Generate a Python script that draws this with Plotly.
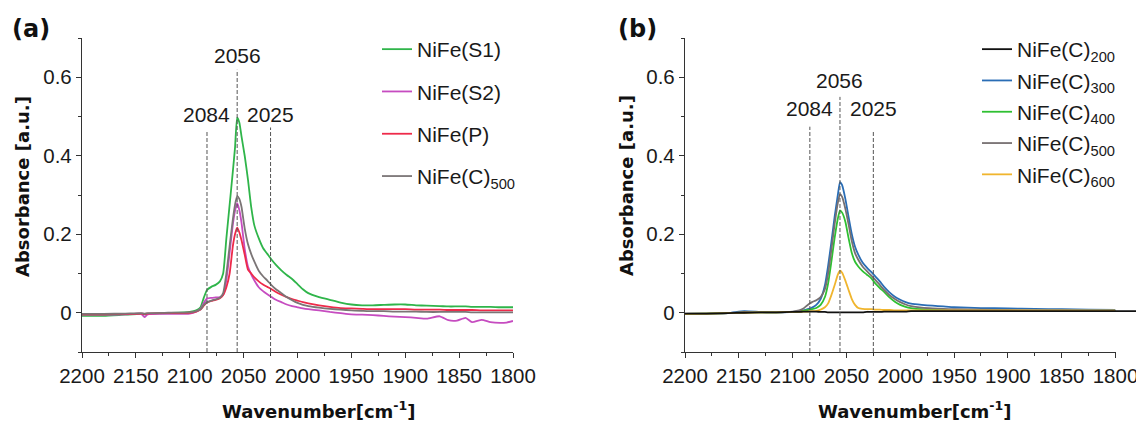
import plotly.graph_objects as go

# ---------------- data: panel (a) ----------------
wn_a = [2200, 2180, 2160, 2145, 2142, 2139, 2120, 2100, 2094, 2090, 2087, 2084, 2080, 2076,
        2072, 2069, 2066, 2063, 2060, 2058, 2056, 2054, 2052, 2049, 2046, 2043, 2040, 2036,
        2032, 2028, 2024, 2020, 2015, 2010, 2005, 2000, 1995, 1990, 1980, 1970, 1960, 1950,
        1940, 1930, 1920, 1910, 1900, 1890, 1880, 1868, 1860, 1852, 1844, 1838, 1829, 1821,
        1812, 1806, 1800]

nife_s1 = [-0.008, -0.008, -0.005, -0.003, -0.004, -0.003, -0.001, 0.002, 0.006, 0.014, 0.038,
           0.058, 0.066, 0.071, 0.080, 0.100, 0.190, 0.275, 0.360, 0.420, 0.497, 0.485, 0.450,
           0.400, 0.340, 0.270, 0.222, 0.190, 0.165, 0.150, 0.135, 0.122, 0.108, 0.096, 0.086,
           0.073, 0.060, 0.050, 0.040, 0.033, 0.026, 0.021, 0.019, 0.019, 0.020, 0.021, 0.021,
           0.019, 0.018, 0.017, 0.016, 0.016, 0.016, 0.015, 0.015, 0.015, 0.014, 0.014, 0.014]

nife_s2 = [-0.005, -0.005, -0.004, -0.003, -0.011, -0.004, -0.003, -0.002, 0.003, 0.010, 0.025,
           0.036, 0.038, 0.039, 0.040, 0.045, 0.084, 0.153, 0.225, 0.260, 0.279, 0.262, 0.230,
           0.163, 0.118, 0.098, 0.082, 0.065, 0.055, 0.047, 0.040, 0.033, 0.027, 0.021, 0.017,
           0.014, 0.011, 0.009, 0.006, 0.002, -0.001, -0.004, -0.005, -0.006, -0.008, -0.010,
           -0.011, -0.013, -0.015, -0.009, -0.019, -0.020, -0.013, -0.024, -0.018, -0.024,
           -0.026, -0.025, -0.021]

nife_p = [-0.004, -0.004, -0.003, -0.002, -0.003, -0.002, -0.001, 0.000, 0.003, 0.008, 0.018,
          0.026, 0.030, 0.033, 0.037, 0.045, 0.065, 0.100, 0.170, 0.200, 0.217, 0.205, 0.185,
          0.148, 0.110, 0.100, 0.090, 0.080, 0.072, 0.066, 0.060, 0.053, 0.046, 0.040, 0.035,
          0.031, 0.027, 0.024, 0.019, 0.015, 0.012, 0.011, 0.010, 0.009, 0.009, 0.009, 0.009,
          0.008, 0.008, 0.008, 0.007, 0.007, 0.007, 0.007, 0.006, 0.006, 0.006, 0.006, 0.006]

nife_c500_a = [-0.003, -0.003, -0.002, -0.001, -0.002, -0.001, 0.000, 0.001, 0.004, 0.009, 0.020,
               0.027, 0.031, 0.034, 0.038, 0.050, 0.100, 0.170, 0.238, 0.275, 0.297, 0.290, 0.270,
               0.215, 0.175, 0.150, 0.130, 0.107, 0.093, 0.082, 0.070, 0.060, 0.050, 0.040, 0.032,
               0.025, 0.020, 0.017, 0.013, 0.010, 0.008, 0.006, 0.005, 0.004, 0.004, 0.003, 0.003,
               0.003, 0.002, 0.002, 0.002, 0.002, 0.002, 0.001, 0.001, 0.001, 0.001, 0.001, 0.001]

# ---------------- data: panel (b) ----------------
wn_b = [2200, 2180, 2160, 2145, 2130, 2115, 2100, 2094, 2090, 2086, 2082, 2078, 2074, 2070,
        2067, 2064, 2061, 2058, 2056, 2054, 2051, 2048, 2045, 2042, 2039, 2035, 2031, 2027,
        2023, 2019, 2015, 2010, 2005, 2000, 1995, 1990, 1980, 1970, 1960, 1950, 1925, 1900,
        1875, 1850, 1825, 1800]

# NiFe(C)200 was recorded a little beyond 1800 cm-1 (its line runs past the axis end)
wn_c200 = wn_b + [1790, 1780]
nife_c200 = [-0.002, -0.002, -0.001, 0.000, 0.001, 0.001, 0.002, 0.002, 0.003, 0.003, 0.003,
             0.003, 0.002, 0.002, 0.001, 0.001, 0.001, 0.001, 0.001, 0.001, 0.001, 0.001, 0.001,
             0.001, 0.001, 0.001, 0.002, 0.002, 0.002, 0.002, 0.003, 0.003, 0.003, 0.003, 0.003,
             0.004, 0.004, 0.004, 0.004, 0.004, 0.004, 0.004, 0.004, 0.004, 0.004, 0.004,
             0.004, 0.004]

nife_c300 = [-0.003, -0.002, -0.001, 0.004, 0.002, 0.001, 0.002, 0.004, 0.006, 0.009, 0.013,
             0.020, 0.035, 0.070, 0.120, 0.180, 0.244, 0.300, 0.333, 0.325, 0.290, 0.244, 0.200,
             0.168, 0.148, 0.128, 0.115, 0.104, 0.092, 0.080, 0.066, 0.052, 0.041, 0.033, 0.027,
             0.023, 0.020, 0.018, 0.016, 0.014, 0.012, 0.011, 0.010, 0.009, 0.008, 0.007]

nife_c400 = [-0.003, -0.002, -0.001, 0.001, 0.001, 0.001, 0.002, 0.003, 0.005, 0.007, 0.009,
             0.012, 0.020, 0.040, 0.075, 0.130, 0.190, 0.240, 0.261, 0.255, 0.232, 0.190, 0.152,
             0.130, 0.118, 0.106, 0.097, 0.088, 0.074, 0.063, 0.053, 0.039, 0.028, 0.020, 0.015,
             0.012, 0.009, 0.008, 0.007, 0.006, 0.005, 0.005, 0.004, 0.004, 0.004, 0.004]

nife_c500_b = [-0.002, -0.002, -0.001, 0.002, 0.001, 0.001, 0.003, 0.006, 0.011, 0.020, 0.027,
               0.032, 0.040, 0.060, 0.100, 0.160, 0.225, 0.280, 0.302, 0.295, 0.265, 0.225, 0.182,
               0.152, 0.135, 0.118, 0.106, 0.095, 0.083, 0.071, 0.058, 0.045, 0.035, 0.027, 0.021,
               0.017, 0.013, 0.011, 0.010, 0.009, 0.008, 0.007, 0.006, 0.006, 0.005, 0.005]

nife_c600 = [-0.003, -0.002, -0.001, 0.000, 0.001, 0.001, 0.002, 0.002, 0.003, 0.003, 0.004,
             0.005, 0.008, 0.014, 0.024, 0.045, 0.070, 0.097, 0.107, 0.102, 0.082, 0.058, 0.035,
             0.020, 0.012, 0.010, 0.009, 0.009, 0.008, 0.008, 0.007, 0.007, 0.006, 0.006, 0.006,
             0.006, 0.006, 0.006, 0.006, 0.006, 0.006, 0.006, 0.006, 0.006, 0.006, 0.006]

# marked band positions and the height each dashed guide reaches
peak_positions = [2084, 2056, 2025]
peak_labels = ["2084", "2056", "2025"]
guide_top_a = [0.465, 0.619, 0.472]
label_y_a = [0.506, 0.655, 0.506]
guide_top_b = [0.474, 0.550, 0.465]
label_y_b = [0.520, 0.593, 0.520]

x_tickvals = [2200, 2150, 2100, 2050, 2000, 1950, 1900, 1850, 1800]
y_tickvals = [0, 0.2, 0.4, 0.6]
y_ticktext = ["0", "0.2", "0.4", "0.6"]

# ---------------- styling ----------------
SANS = "Liberation Sans, Arial, sans-serif"
TICK_FONT = dict(family=SANS, size=20.5, color="#1a1a1a")
ANNOT_FONT = dict(family=SANS, size=21, color="#1a1a1a")
LEGEND_FONT = dict(family=SANS, size=21, color="#1a1a1a")
BOLD_FONT = "DejaVu Sans, Verdana, sans-serif"
AXIS_COLOR = "#333333"
LW = 1.8

series_a = [
    ("NiFe(S1)", nife_s1, "#2fb54a"),
    ("NiFe(S2)", nife_s2, "#c64cc0"),
    ("NiFe(P)", nife_p, "#ee2a4a"),
    ("NiFe(C)<sub>500</sub>", nife_c500_a, "#7b7576"),
]
series_b = [
    ("NiFe(C)<sub>200</sub>", wn_c200, nife_c200, "#111111"),
    ("NiFe(C)<sub>300</sub>", wn_b, nife_c300, "#2a6db5"),
    ("NiFe(C)<sub>400</sub>", wn_b, nife_c400, "#2fc032"),
    ("NiFe(C)<sub>500</sub>", wn_b, nife_c500_b, "#767071"),
    ("NiFe(C)<sub>600</sub>", wn_b, nife_c600, "#f0b52e"),
]

fig = go.Figure()

for i, (name, vals, col) in enumerate(series_a):
    fig.add_trace(go.Scatter(
        x=wn_a, y=vals, name=name, mode="lines",
        line=dict(color=col, width=LW, shape="spline", smoothing=0.5),
        xaxis="x", yaxis="y", legend="legend", legendgroup="a%d" % i))

for i, (name, xs, vals, col) in enumerate(series_b):
    fig.add_trace(go.Scatter(
        x=xs, y=vals, name=name, mode="lines",
        line=dict(color=col, width=LW, shape="spline", smoothing=0.5),
        xaxis="x3" if i == 0 else "x2", yaxis="y2",
        legend="legend2", legendgroup="b%d" % i))

W, H = 1136, 422
xa_dom = [82 / W, 513 / W]
xb_dom = [685 / W, 1115.5 / W]
y_dom = [(H - 352) / H, (H - 38) / H]

axis_common = dict(
    showline=True, linecolor=AXIS_COLOR, linewidth=1.3, mirror=False,
    ticks="outside", ticklen=5, tickwidth=1.2, tickcolor=AXIS_COLOR,
    showgrid=False, zeroline=False, tickfont=TICK_FONT, automargin=False,
)

xaxis_common = dict(axis_common, range=[2200, 1800], tickvals=x_tickvals,
                    ticklabeloverflow="allow",
                    minor=dict(dtick=25, tick0=1800, ticks="outside", ticklen=3,
                               tickcolor=AXIS_COLOR, showgrid=False))
yaxis_common = dict(axis_common, range=[-0.1, 0.7], tickvals=y_tickvals, ticktext=y_ticktext,
                    minor=dict(dtick=0.1, tick0=0, ticks="outside", ticklen=3,
                               tickcolor=AXIS_COLOR, showgrid=False))

# extended (hidden) axis so the NiFe(C)200 trace runs past 1800 like in the source
x3_span = (1115.5 - 685) / 400.0
x3_end = 2200 - (W - 685) / x3_span

fig.update_layout(
    width=W, height=H,
    margin=dict(l=0, r=0, t=0, b=0, autoexpand=False),
    paper_bgcolor="white", plot_bgcolor="rgba(0,0,0,0)",
    xaxis=dict(xaxis_common, domain=xa_dom, anchor="y"),
    yaxis=dict(yaxis_common, domain=y_dom, anchor="x"),
    xaxis2=dict(xaxis_common, domain=xb_dom, anchor="y2"),
    yaxis2=dict(yaxis_common, domain=y_dom, anchor="x2"),
    xaxis3=dict(domain=[685 / W, 1.0], range=[2200, x3_end], anchor="y2",
                visible=False, showgrid=False, zeroline=False, automargin=False),
    legend=dict(x=377 / W, y=(H - 29) / H, xanchor="left", yanchor="top",
                font=LEGEND_FONT, bgcolor="rgba(0,0,0,0)", borderwidth=0, tracegroupgap=12),
    legend2=dict(x=977 / W, y=(H - 29) / H, xanchor="left", yanchor="top",
                 font=LEGEND_FONT, bgcolor="rgba(0,0,0,0)", borderwidth=0, tracegroupgap=1),
    showlegend=True,
)

shapes = []
annotations = []
for panel, (xr, yr, tops, label_ys) in enumerate([("x", "y", guide_top_a, label_y_a),
                                                  ("x2", "y2", guide_top_b, label_y_b)]):
    for pos, lab, top, ly in zip(peak_positions, peak_labels, tops, label_ys):
        shapes.append(dict(type="line", xref=xr, yref=yr, x0=pos, x1=pos, y0=-0.1, y1=top,
                           line=dict(color="#555555", width=1, dash="4px,2px")))
        annotations.append(dict(xref=xr, yref=yr, x=pos, y=ly, text=lab, showarrow=False,
                                font=ANNOT_FONT, xanchor="center", yanchor="middle"))

# panel letters and axis titles
annotations += [
    dict(xref="paper", yref="paper", x=10 / W, y=(H - 29) / H, text="<b>(a)</b>",
         showarrow=False, xanchor="left", yanchor="middle",
         font=dict(family=BOLD_FONT, size=24, color="#111111")),
    dict(xref="paper", yref="paper", x=616 / W, y=(H - 29) / H, text="<b>(b)</b>",
         showarrow=False, xanchor="left", yanchor="middle",
         font=dict(family=BOLD_FONT, size=24, color="#111111")),
    dict(xref="paper", yref="paper", x=22 / W, y=(H - 187) / H, text="<b>Absorbance [a.u.]</b>",
         textangle=-90, showarrow=False, xanchor="center", yanchor="middle",
         font=dict(family=BOLD_FONT, size=18, color="#111111")),
    dict(xref="paper", yref="paper", x=626 / W, y=(H - 186) / H, text="<b>Absorbance [a.u.]</b>",
         textangle=-90, showarrow=False, xanchor="center", yanchor="middle",
         font=dict(family=BOLD_FONT, size=18, color="#111111")),
    dict(xref="paper", yref="paper", x=319 / W, y=(H - 410) / H,
         text="<b>Wavenumber[cm<sup>-1</sup>]</b>",
         showarrow=False, xanchor="center", yanchor="middle",
         font=dict(family=BOLD_FONT, size=18, color="#111111")),
    dict(xref="paper", yref="paper", x=915 / W, y=(H - 410) / H,
         text="<b>Wavenumber[cm<sup>-1</sup>]</b>",
         showarrow=False, xanchor="center", yanchor="middle",
         font=dict(family=BOLD_FONT, size=18, color="#111111")),
]

fig.update_layout(shapes=shapes, annotations=annotations)

fig.write_html("out.html")
